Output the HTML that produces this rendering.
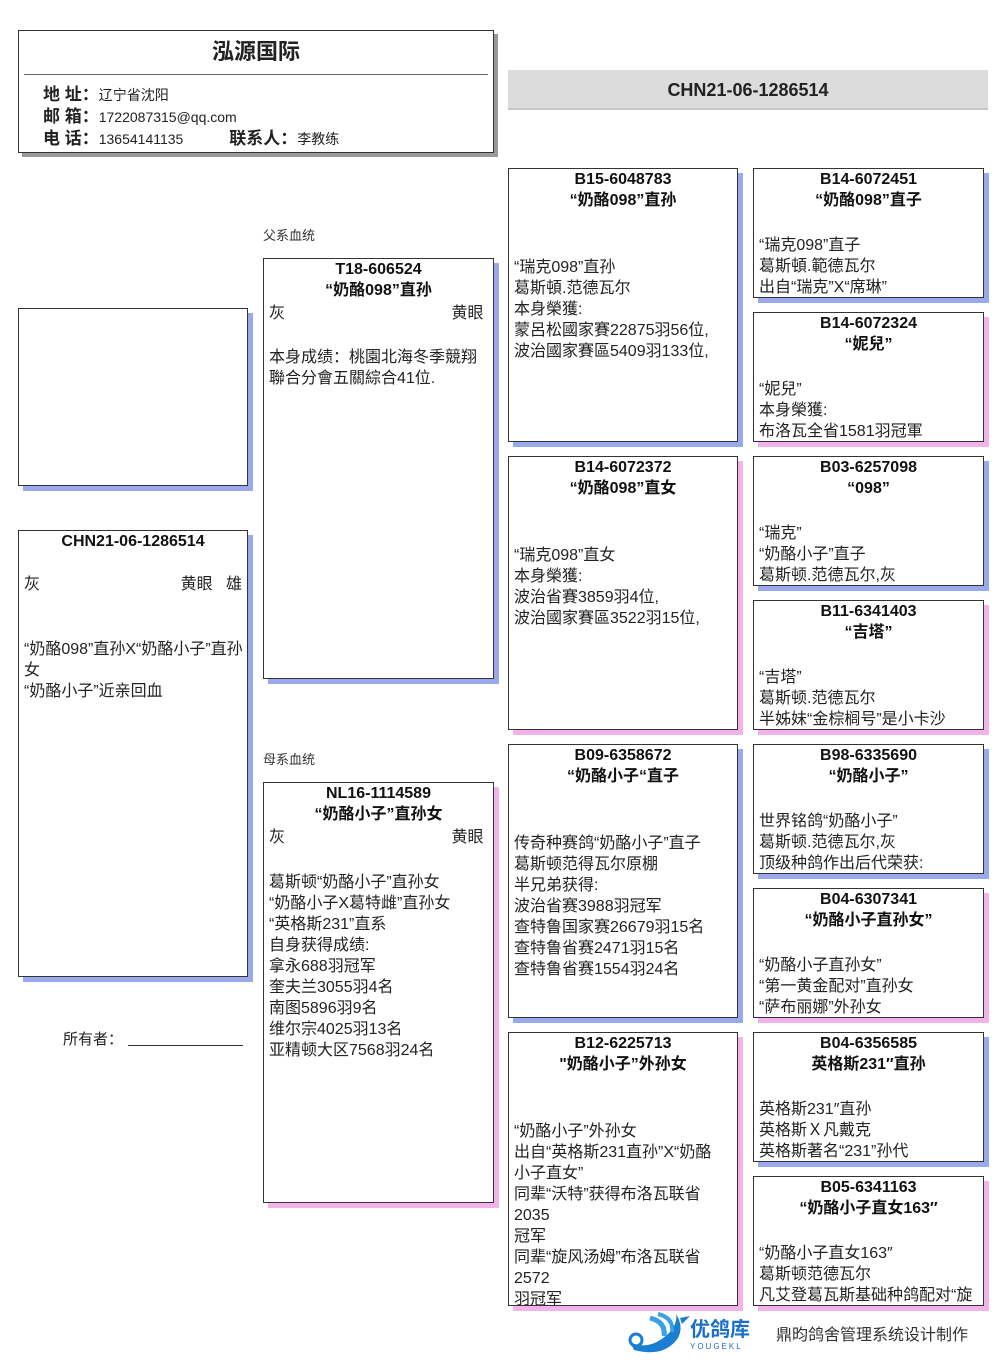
<!DOCTYPE html>
<html><head><meta charset="utf-8">
<style>
*{margin:0;padding:0;box-sizing:border-box}
body{width:1006px;height:1366px;background:#fff;position:relative;overflow:hidden;font-family:"Liberation Sans","Noto Sans CJK SC",sans-serif;color:#222}
.b{position:absolute;background:#fff;border:1px solid #333;font-size:16px;line-height:21px;padding:0 5px;overflow:hidden;white-space:nowrap}
.m{box-shadow:5px 5px 0 #9aa8ee}
.f{box-shadow:5px 5px 0 #f4b2ea}
.t{text-align:center;font-weight:bold;color:#111}
.r{display:flex;justify-content:space-between}
.lbl{position:absolute;font-size:13px;color:#333}
.g2{height:46px}.g1{height:24px}
</style></head><body>

<div style="position:absolute;left:18px;top:30px;width:476px;height:123px;border:1px solid #333;box-shadow:4px 4px 0 #999;background:#fff">
  <div style="position:absolute;left:0;right:0;top:3px;text-align:center;font-size:22px;font-weight:bold;color:#222">泓源国际</div>
  <div style="position:absolute;left:5px;right:5px;top:43px;border-top:1px solid #666"></div>
  <div style="position:absolute;left:24px;top:53px;font-size:14px;line-height:21px">
    <div><b style="font-size:17px">地 址：</b>辽宁省沈阳</div>
    <div><b style="font-size:17px">邮 箱：</b>1722087315@qq.com</div>
    <div><b style="font-size:17px">电 话：</b>13654141135 <b style="font-size:17px;margin-left:42px">联系人：</b>李教练</div>
  </div>
</div>

<div style="position:absolute;left:508px;top:70px;width:480px;height:40px;background:#dcdcdc;border-bottom:2px solid #c8c8c8;text-align:center;line-height:40px;font-weight:bold;font-size:18px;color:#222">CHN21-06-1286514</div>

<div class="b m" style="left:18px;top:308px;width:230px;height:178px"></div>
<div class="b m" style="left:18px;top:530px;width:230px;height:447px">
<div class="t">CHN21-06-1286514</div><div style="height:22px"></div>
<div class="r"><span>灰</span><span>黄眼&nbsp;&nbsp;&nbsp;雄</span></div><div style="height:44px"></div>
<div>“奶酪098”直孙X“奶酪小子”直孙</div><div>女</div><div>“奶酪小子”近亲回血</div>
</div>
<div style="position:absolute;left:63px;top:1028px;font-size:15px">所有者：</div>
<div style="position:absolute;left:128px;top:1045px;width:115px;border-top:1px solid #333"></div>

<div class="lbl" style="left:263px;top:225px">父系血统</div>
<div class="b m" style="left:263px;top:258px;width:231px;height:421px">
<div class="t">T18-606524</div><div class="t">“奶酪098”直孙</div>
<div class="r" style="margin-top:2px"><span>灰</span><span>黄眼&nbsp;</span></div><div style="height:23px"></div>
<div>本身成绩：桃園北海冬季競翔</div><div>聯合分會五關綜合41位.</div>
</div>
<div class="lbl" style="left:263px;top:749px">母系血统</div>
<div class="b f" style="left:263px;top:782px;width:231px;height:421px">
<div class="t">NL16-1114589</div><div class="t">“奶酪小子”直孙女</div>
<div class="r" style="margin-top:2px"><span>灰</span><span>黄眼&nbsp;</span></div><div style="height:24px"></div>
<div>葛斯顿“奶酪小子”直孙女</div><div>“奶酪小子X葛特雌”直孙女</div><div>“英格斯231”直系</div><div>自身获得成绩:</div><div>拿永688羽冠军</div><div>奎夫兰3055羽4名</div><div>南图5896羽9名</div><div>维尔宗4025羽13名</div><div>亚精顿大区7568羽24名</div>
</div>

<div class="b m" style="left:508px;top:168px;width:230px;height:274px">
<div class="t">B15-6048783</div><div class="t">“奶酪098”直孙</div><div class="g2"></div>
<div>“瑞克098”直孙</div><div>葛斯頓.范德瓦尔</div><div>本身榮獲:</div><div>蒙呂松國家賽22875羽56位,</div><div>波治國家賽區5409羽133位,</div>
</div>
<div class="b f" style="left:508px;top:456px;width:230px;height:274px">
<div class="t">B14-6072372</div><div class="t">“奶酪098”直女</div><div class="g2"></div>
<div>“瑞克098”直女</div><div>本身榮獲:</div><div>波治省賽3859羽4位,</div><div>波治國家賽區3522羽15位,</div>
</div>
<div class="b m" style="left:508px;top:744px;width:230px;height:274px">
<div class="t">B09-6358672</div><div class="t">“奶酪小子“直子</div><div class="g2"></div>
<div>传奇种赛鸽“奶酪小子”直子</div><div>葛斯顿范得瓦尔原棚</div><div>半兄弟获得:</div><div>波治省赛3988羽冠军</div><div>查特鲁国家赛26679羽15名</div><div>查特鲁省赛2471羽15名</div><div>查特鲁省赛1554羽24名</div>
</div>
<div class="b f" style="left:508px;top:1032px;width:230px;height:274px">
<div class="t">B12-6225713</div><div class="t">"奶酪小子”外孙女</div><div class="g2"></div>
<div>“奶酪小子”外孙女</div><div>出自“英格斯231直孙”X“奶酪</div><div>小子直女”</div><div>同辈“沃特”获得布洛瓦联省</div><div>2035</div><div>冠军</div><div>同辈“旋风汤姆”布洛瓦联省</div><div>2572</div><div>羽冠军</div>
</div>

<div class="b m" style="left:753px;top:168px;width:231px;height:130px">
<div class="t">B14-6072451</div><div class="t">“奶酪098”直子</div><div class="g1"></div>
<div>“瑞克098”直子</div><div>葛斯頓.範德瓦尔</div><div>出自“瑞克”X“席琳”</div>
</div>
<div class="b f" style="left:753px;top:312px;width:231px;height:130px">
<div class="t">B14-6072324</div><div class="t">“妮兒”</div><div class="g1"></div>
<div>“妮兒”</div><div>本身榮獲:</div><div>布洛瓦全省1581羽冠軍</div>
</div>
<div class="b m" style="left:753px;top:456px;width:231px;height:130px">
<div class="t">B03-6257098</div><div class="t">“098”</div><div class="g1"></div>
<div>“瑞克”</div><div>“奶酪小子”直子</div><div>葛斯顿.范德瓦尔,灰</div>
</div>
<div class="b f" style="left:753px;top:600px;width:231px;height:130px">
<div class="t">B11-6341403</div><div class="t">“吉塔”</div><div class="g1"></div>
<div>“吉塔”</div><div>葛斯顿.范德瓦尔</div><div>半姊妹“金棕榈号”是小卡沙</div>
</div>
<div class="b m" style="left:753px;top:744px;width:231px;height:130px">
<div class="t">B98-6335690</div><div class="t">“奶酪小子”</div><div class="g1"></div>
<div>世界铭鸽“奶酪小子”</div><div>葛斯顿.范德瓦尔,灰</div><div>顶级种鸽作出后代荣获:</div>
</div>
<div class="b f" style="left:753px;top:888px;width:231px;height:130px">
<div class="t">B04-6307341</div><div class="t">“奶酪小子直孙女”</div><div class="g1"></div>
<div>“奶酪小子直孙女”</div><div>“第一黄金配对”直孙女</div><div>“萨布丽娜”外孙女</div>
</div>
<div class="b m" style="left:753px;top:1032px;width:231px;height:130px">
<div class="t">B04-6356585</div><div class="t">英格斯231″直孙</div><div class="g1"></div>
<div>英格斯231″直孙</div><div>英格斯Ｘ凡戴克</div><div>英格斯著名“231”孙代</div>
</div>
<div class="b f" style="left:753px;top:1176px;width:231px;height:130px">
<div class="t">B05-6341163</div><div class="t">“奶酪小子直女163″</div><div class="g1"></div>
<div>“奶酪小子直女163″</div><div>葛斯顿范德瓦尔</div><div>凡艾登葛瓦斯基础种鸽配对“旋</div>
</div>

<svg style="position:absolute;left:620px;top:1312px" width="70" height="44" viewBox="0 0 70 44">
<path d="M10 30 Q30 40 50 20 Q58 10 56 2 Q64 14 58 26 Q44 46 14 38 Z" fill="#1a7fd0"/>
<path d="M30 6 Q46 10 44 24" stroke="#39a0e6" stroke-width="5" fill="none"/>
<path d="M38 2 Q54 6 52 20" stroke="#39a0e6" stroke-width="4" fill="none"/>
<circle cx="16" cy="28" r="6" fill="none" stroke="#1a7fd0" stroke-width="3"/>
<path d="M60 6 L70 4 L62 12 Z" fill="#1a7fd0"/>
</svg>
<div style="position:absolute;left:690px;top:1319px;font-size:20px;font-weight:bold;color:#1a6fc8;line-height:22px">优鸽库</div>
<div style="position:absolute;left:690px;top:1342px;font-size:8px;color:#1a6fc8;letter-spacing:2px">YOUGEKL</div>
<div style="position:absolute;left:776px;top:1321px;font-size:16px;color:#333">鼎昀鸽舍管理系统设计制作</div>
</body></html>
